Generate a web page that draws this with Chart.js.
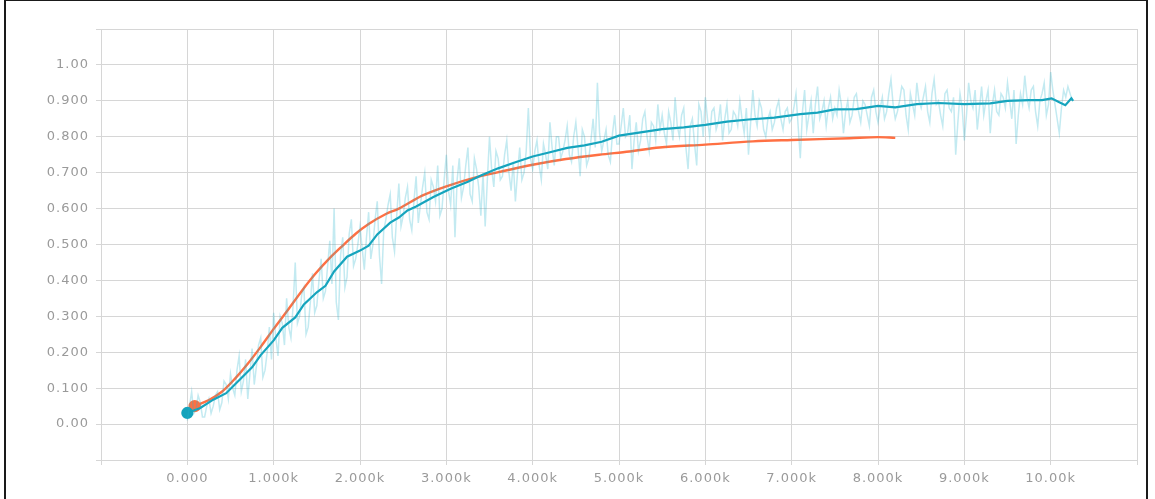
<!DOCTYPE html>
<html>
<head>
<meta charset="utf-8">
<script src="https://cdn.jsdelivr.net/npm/chart.js@4/dist/chart.umd.min.js"></script>
<style>
  html, body { margin: 0; padding: 0; background: #fff; overflow: hidden; }
  #wrap { position: relative; width: 1155px; height: 499px; }
  #frame { position: absolute; left: 4px; top: -1px; width: 1140px; height: 520px; border: 2px solid #1a1a1a; pointer-events: none; }
</style>
</head>
<body>
<div id="wrap">
  <canvas id="run-canvas" width="1155" height="499"></canvas>
  <div id="frame"></div>
</div>
<script>
// raw (unsmoothed) run: values at steps 0, 50, 100 ... 10250
let rawValues = [
    0.01, 0.09, 0.04, 0.06, 0.02, 0.07, 0.05, 0.09, 0.06, 0.11,
    0.14, 0.08, 0.19, 0.12, 0.07, 0.21, 0.16, 0.24, 0.15, 0.27,
    0.31, 0.19, 0.28, 0.35, 0.24, 0.45, 0.30, 0.38, 0.27, 0.42,
    0.33, 0.46, 0.37, 0.51, 0.60, 0.29, 0.52, 0.41, 0.57, 0.46,
    0.55, 0.43, 0.59, 0.50, 0.62, 0.39, 0.57, 0.64, 0.48, 0.67,
    0.58, 0.66, 0.54, 0.69, 0.61, 0.70, 0.57, 0.66, 0.72, 0.60,
    0.75, 0.61, 0.52, 0.74, 0.66, 0.77, 0.62, 0.71, 0.58, 0.55,
    0.80, 0.66, 0.74, 0.69, 0.79, 0.65, 0.62, 0.77, 0.70, 0.88,
    0.71, 0.79, 0.68, 0.75, 0.84, 0.72, 0.80, 0.76, 0.83, 0.73,
    0.84, 0.69, 0.80, 0.74, 0.85, 0.95, 0.76, 0.82, 0.73, 0.86,
    0.78, 0.88, 0.81, 0.71, 0.84, 0.79, 0.87, 0.76, 0.83, 0.89,
    0.86, 0.78, 0.84, 0.91, 0.80, 0.88, 0.71, 0.85, 0.72, 0.87,
    0.91, 0.80, 0.88, 0.84, 0.79, 0.89, 0.82, 0.86, 0.90, 0.81,
    0.75, 0.93, 0.83, 0.88, 0.80, 0.87, 0.84, 0.90, 0.82, 0.88,
    0.85, 0.92, 0.74, 0.93, 0.86, 0.81, 0.94, 0.87, 0.83, 0.91,
    0.88, 0.93, 0.81, 0.90, 0.86, 0.92, 0.84, 0.89, 0.83, 0.93,
    0.84, 0.91, 0.87, 0.96, 0.85, 0.90, 0.93, 0.82, 0.89, 0.95,
    0.88, 0.94, 0.84, 0.96, 0.90, 0.83, 0.93, 0.87, 0.75, 0.92,
    0.79, 0.95, 0.88, 0.82, 0.94, 0.90, 0.81, 0.93, 0.86, 0.91,
    0.95, 0.85, 0.78, 0.92, 0.97, 0.88, 0.94, 0.83, 0.92, 0.86,
    0.98, 0.89, 0.81, 0.93, 0.94, 0.90
];
// raw run, in-between values at steps 25, 75, 125 ... 10225
let rawMidValues = [
    0.05, 0.03, 0.08, 0.02, 0.05, 0.03, 0.08, 0.04, 0.12, 0.07,
    0.10, 0.15, 0.09, 0.18, 0.14, 0.11, 0.22, 0.13, 0.20, 0.18,
    0.24, 0.30, 0.22, 0.27, 0.33, 0.28, 0.36, 0.25, 0.34, 0.31,
    0.40, 0.35, 0.44, 0.39, 0.34, 0.47, 0.38, 0.53, 0.44, 0.50,
    0.49, 0.52, 0.46, 0.57, 0.47, 0.54, 0.61, 0.52, 0.58, 0.55,
    0.63, 0.57, 0.62, 0.56, 0.66, 0.59, 0.68, 0.62, 0.58, 0.68,
    0.65, 0.72, 0.68, 0.63, 0.72, 0.64, 0.74, 0.66, 0.70, 0.68,
    0.71, 0.76, 0.68, 0.75, 0.70, 0.73, 0.70, 0.68, 0.76, 0.74,
    0.76, 0.72, 0.78, 0.71, 0.77, 0.80, 0.74, 0.79, 0.75, 0.80,
    0.77, 0.82, 0.72, 0.79, 0.77, 0.81, 0.79, 0.75, 0.81, 0.78,
    0.83, 0.80, 0.86, 0.79, 0.76, 0.85, 0.80, 0.84, 0.79, 0.82,
    0.81, 0.87, 0.79, 0.83, 0.86, 0.77, 0.83, 0.78, 0.89, 0.80,
    0.85, 0.87, 0.82, 0.89, 0.85, 0.81, 0.87, 0.83, 0.85, 0.88,
    0.84, 0.86, 0.90, 0.82, 0.85, 0.82, 0.88, 0.85, 0.87, 0.84,
    0.88, 0.83, 0.87, 0.82, 0.90, 0.89, 0.85, 0.90, 0.88, 0.85,
    0.86, 0.89, 0.87, 0.84, 0.91, 0.87, 0.90, 0.86, 0.91, 0.87,
    0.88, 0.85, 0.92, 0.89, 0.87, 0.94, 0.86, 0.92, 0.86, 0.90,
    0.91, 0.87, 0.92, 0.89, 0.86, 0.92, 0.88, 0.91, 0.84, 0.88,
    0.86, 0.90, 0.93, 0.88, 0.86, 0.93, 0.89, 0.87, 0.92, 0.88,
    0.90, 0.93, 0.86, 0.89, 0.91, 0.93, 0.87, 0.90, 0.95, 0.89,
    0.93, 0.85, 0.88, 0.91, 0.92
];

// smoothed teal run
let tealSteps = [0, 150, 300, 450, 600, 750, 850, 1000, 1100, 1250, 1350, 1500, 1600, 1700, 1850,
    2000, 2100, 2200, 2350, 2450, 2550, 2650, 2850, 3050, 3250, 3400, 3600, 3800, 4000, 4200,
    4400, 4600, 4800, 5000, 5250, 5500, 5750, 6000, 6250, 6500, 6800, 7100, 7300, 7500, 7750,
    8000, 8200, 8450, 8700, 9000, 9300, 9500, 9750, 9900, 10010, 10100, 10170, 10240, 10260];
let tealValues = [0.031, 0.045, 0.068, 0.086, 0.122, 0.158, 0.192, 0.233, 0.268, 0.297, 0.333, 0.367, 0.385, 0.425, 0.466,
    0.483, 0.497, 0.528, 0.561, 0.575, 0.595, 0.606, 0.632, 0.655, 0.675, 0.692, 0.712, 0.729, 0.745, 0.757,
    0.769, 0.776, 0.786, 0.803, 0.812, 0.821, 0.826, 0.833, 0.842, 0.848, 0.853, 0.863, 0.867, 0.876, 0.877,
    0.886, 0.882, 0.891, 0.894, 0.891, 0.893, 0.900, 0.902, 0.902, 0.907, 0.896, 0.888, 0.907, 0.900];

// smoothed orange run
let orangeSteps = [85, 250, 400, 550, 700, 850, 1000, 1175, 1330, 1485, 1640, 1800, 1950, 2100, 2300,
    2450, 2720, 3000, 3340, 3690, 4000, 4385, 4770, 5120, 5470, 6000, 6550, 7000, 7670, 8000, 8200];
let orangeValues = [0.050, 0.067, 0.090, 0.126, 0.168, 0.215, 0.265, 0.321, 0.372, 0.419, 0.460, 0.497, 0.530, 0.557, 0.585,
    0.600, 0.636, 0.662, 0.687, 0.706, 0.722, 0.738, 0.750, 0.759, 0.770, 0.778, 0.787, 0.791, 0.796, 0.799, 0.797];

let yTicks = { min: -0.1, max: 1.1, step: 0.1 };
let xTicks = { min: -1000, max: 11000, step: 1000 };

// merge the two raw arrays into one point list, in step order
let rawPoints = [];
rawValues.forEach((v, i) => {
    rawPoints.push({ x: i * 50, y: v });
    if (i < rawMidValues.length) rawPoints.push({ x: i * 50 + 25, y: rawMidValues[i] });
});

function toPoints(xs, ys) {
    return xs.map((x, i) => ({ x: x, y: ys[i] }));
}

let gridColor = '#d6d6d6';
let labelColor = '#9a9a9a';

let spacing = {
    id: 'spacing',
    beforeDraw(chart) {
        chart.ctx.letterSpacing = '1px';
    }
};

let runCtx = document.getElementById('run-canvas').getContext('2d');
let runChart = new Chart(runCtx, {
    type: 'line',
    data: {
        datasets: [{
            data: rawPoints,
            borderColor: 'rgba(40, 180, 205, 0.28)',
            borderWidth: 1.5,
            pointRadius: 0,
            tension: 0
        }, {
            data: toPoints(tealSteps, tealValues),
            borderColor: '#14a3bc',
            backgroundColor: '#14a3bc',
            borderWidth: 2.2,
            pointRadius: ctx => ctx.dataIndex === 0 ? 5 : 0,
            tension: 0
        }, {
            data: toPoints(orangeSteps, orangeValues),
            borderColor: '#ff7043',
            backgroundColor: '#ff7043',
            borderWidth: 2.4,
            pointRadius: ctx => ctx.dataIndex === 0 ? 5 : 0,
            cubicInterpolationMode: 'monotone'
        }]
    },
    options: {
        responsive: false,
        animation: false,
        devicePixelRatio: 1,
        layout: {
            padding: { left: 0, right: 18, top: 29, bottom: 0 }
        },
        plugins: {
            legend: { display: false },
            tooltip: { enabled: false }
        },
        scales: {
            x: {
                type: 'linear',
                min: xTicks.min,
                max: xTicks.max,
                afterFit: scale => { scale.height = 39; },
                grid: { color: gridColor, tickLength: 5 },
                border: { color: gridColor },
                ticks: {
                    stepSize: xTicks.step,
                    autoSkip: false,
                    maxRotation: 0,
                    padding: 6,
                    color: labelColor,
                    font: { family: 'DejaVu Sans', size: 13 },
                    callback: v => {
                        if (v < 0 || v > 10500) return '';
                        if (v === 0) return '0.000';
                        if (v >= 10000) return (v / 1000).toFixed(2) + 'k';
                        return (v / 1000).toFixed(3) + 'k';
                    }
                }
            },
            y: {
                min: yTicks.min,
                max: yTicks.max,
                afterFit: scale => { scale.width = 101; },
                grid: { color: gridColor, tickLength: 5 },
                border: { color: gridColor },
                ticks: {
                    stepSize: yTicks.step,
                    padding: 7,
                    color: labelColor,
                    font: { family: 'DejaVu Sans', size: 13 },
                    callback: v => {
                        if (v < -0.05 || v > 1.05) return '';
                        if (Math.abs(v) < 1e-6) return '0.00';
                        if (Math.abs(v - 1) < 1e-6) return '1.00';
                        return v.toFixed(3);
                    }
                }
            }
        }
    },
    plugins: [spacing]
});
</script>
</body>
</html>
